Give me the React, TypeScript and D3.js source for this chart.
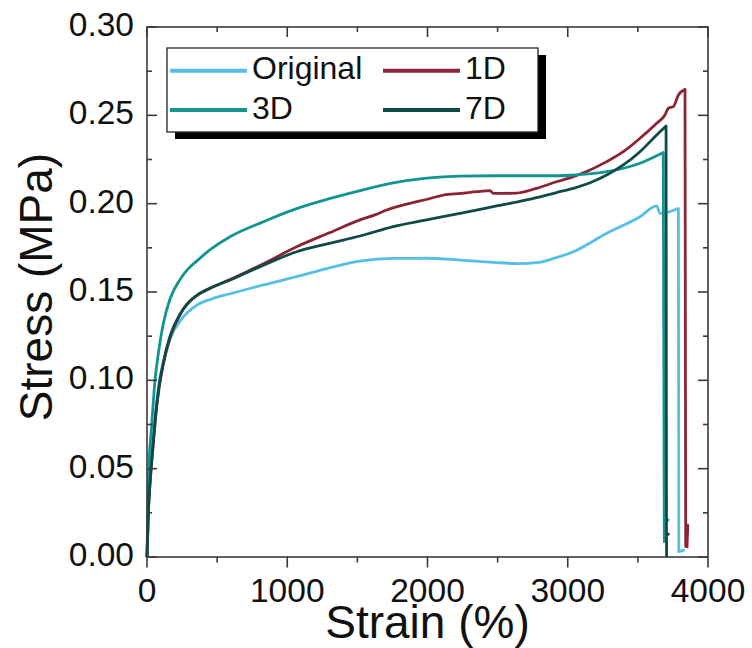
import React from "react";
import * as d3 from "d3";

// ---- data (strain %, stress MPa) ----
const originalData: [number, number][] = [
  [0, 0], [9.5, 0.025], [25, 0.048], [45, 0.068], [65, 0.085], [85, 0.098], [116, 0.11], [150, 0.12], [188, 0.1275],
  [235, 0.1335], [290, 0.1385], [354, 0.1425], [460, 0.146], [592, 0.149], [830, 0.154], [1067, 0.1587], [1300, 0.1637], [1519, 0.1675], [1756, 0.169],
  [1994, 0.1691], [2232, 0.1681], [2469, 0.1668], [2640, 0.1661], [2780, 0.1666], [2900, 0.169],
  [3040, 0.1728], [3278, 0.1832], [3515, 0.1926], [3634, 0.1987], [3658, 0.1945], [3789, 0.1973],
  [3792, 0.003], [3835, 0.004],
];
const d1Data: [number, number][] = [
  [0, 0], [9.5, 0.025], [25, 0.045], [45, 0.064], [65, 0.082], [85, 0.095], [116, 0.109], [164, 0.124], [235, 0.137],
  [290, 0.1435], [354, 0.148], [460, 0.1525], [592, 0.157], [830, 0.166], [1067, 0.1756], [1300, 0.1835], [1519, 0.1908],
  [1620, 0.1935], [1709, 0.1964], [1875, 0.2002], [2000, 0.2025], [2113, 0.2049], [2240, 0.2058],
  [2351, 0.2068], [2446, 0.2074], [2469, 0.2058], [2636, 0.206], [2778, 0.2087], [2920, 0.2124],
  [3040, 0.2153], [3159, 0.2191], [3278, 0.2238], [3396, 0.2294], [3515, 0.237], [3634, 0.2455],
  [3693, 0.2502], [3717, 0.254], [3753, 0.2549], [3789, 0.2615], [3836, 0.2647],
  [3841, 0.006], [3856, 0.018], [3850, 0.005],
];
const d3Data: [number, number][] = [
  [0, 0], [9.5, 0.0436], [33, 0.074], [57, 0.1], [81, 0.1153], [116, 0.132], [164, 0.146],
  [235, 0.157], [290, 0.1628], [354, 0.1675], [460, 0.1745], [592, 0.1813], [830, 0.1898], [1067, 0.1972], [1300, 0.2028],
  [1519, 0.2074], [1756, 0.2118], [1994, 0.2145], [2232, 0.2156], [2469, 0.2158], [2707, 0.2158],
  [2945, 0.2158], [3040, 0.2162], [3278, 0.2181], [3515, 0.2229], [3681, 0.229],
  [3688, 0.02], [3714, 0.021], [3688, 0.02], [3689, 0.008],
];
const d7Data: [number, number][] = [
  [0, 0], [9.5, 0.025], [25, 0.046], [45, 0.065], [65, 0.083], [85, 0.096], [116, 0.11], [164, 0.125], [235, 0.1375],
  [290, 0.1435], [354, 0.148], [460, 0.1525], [592, 0.1568], [830, 0.1652], [1067, 0.1728], [1300, 0.1775], [1519, 0.1817],
  [1756, 0.187], [1994, 0.1908], [2232, 0.1945], [2469, 0.1983], [2707, 0.2021], [2920, 0.2063],
  [3040, 0.2087], [3159, 0.2118], [3278, 0.2162], [3396, 0.2219], [3515, 0.2294], [3634, 0.2389],
  [3701, 0.244], [3704, 0.013], [3718, 0.013], [3704, 0.012], [3705, 0.0],
];

const seriesNames = ["Original", "1D", "3D", "7D"];
const seriesColors = ["#55BFE6", "#8B2434", "#12948F", "#0E4B47"];
const seriesData = [originalData, d1Data, d3Data, d7Data];
const drawOrder = [0, 1, 2, 3];

const xMajorTicks = [0, 1000, 2000, 3000, 4000];
const xMinorTicks = [500, 1500, 2500, 3500];
const yMajorTicks = [0, 0.05, 0.1, 0.15, 0.2, 0.25, 0.3];
const yMinorTicks = [0.025, 0.075, 0.125, 0.175, 0.225, 0.275];

const xTitle = "Strain (%)";
const yTitle = "Stress (MPa)";

export default function App() {
  const W = 752, H = 648;
  const left = 147, right = 708, top = 27, bottom = 557;
  const x = d3.scaleLinear().domain([0, 4000]).range([left, right]);
  const y = d3.scaleLinear().domain([0, 0.3]).range([bottom, top]);
  const smooth = d3.line<[number, number]>().x(d => x(d[0])).y(d => y(d[1])).curve(d3.curveMonotoneX);
  const font = "'Liberation Sans', Arial, sans-serif";
  const axisColor = "#3a3a3a";

  // smooth body up to the break, straight segments for the fracture tail
  const pathFor = (data: [number, number][]) => {
    let brk = data.length - 1;
    for (let i = 1; i < data.length; i++) {
      if (data[i - 1][1] - data[i][1] > 0.05) { brk = i - 1; break; }
    }
    const body = smooth(data.slice(0, brk + 1)) || "";
    const tail = data.slice(brk + 1).map(d => `L${x(d[0])},${y(d[1])}`).join("");
    return body + tail;
  };

  const lgX = 167, lgY = 48, lgW = 371, lgH = 84;
  const rowY = [70.7, 110];
  const colX = [170, 383];
  const lineLen = 77;

  return (
    <svg width={W} height={H} style={{ position: "absolute", left: 0, top: 0, background: "#fff" }}
      fontFamily={font}>
      <rect x={0} y={0} width={W} height={H} fill="#fff" />
      {drawOrder.map(i => (
        <path key={i} d={pathFor(seriesData[i])} fill="none" stroke={seriesColors[i]}
          strokeWidth={2.8} strokeLinejoin="round" />
      ))}
      <rect x={left} y={top} width={right - left} height={bottom - top} fill="none"
        stroke={axisColor} strokeWidth={1.6} />
      {xMajorTicks.map(t => (
        <g key={"xm" + t}>
          <line x1={x(t)} x2={x(t)} y1={bottom} y2={bottom + 10.5} stroke={axisColor} strokeWidth={1.6} />
          <line x1={x(t)} x2={x(t)} y1={top} y2={top + 10} stroke={axisColor} strokeWidth={1.6} />
          <text x={x(t)} y={602} fontSize={33.5} textAnchor="middle" fill="#111">{t}</text>
        </g>
      ))}
      {xMinorTicks.map(t => (
        <g key={"xn" + t}>
          <line x1={x(t)} x2={x(t)} y1={bottom} y2={bottom + 5.5} stroke={axisColor} strokeWidth={1.6} />
          <line x1={x(t)} x2={x(t)} y1={top} y2={top + 5} stroke={axisColor} strokeWidth={1.6} />
        </g>
      ))}
      {yMajorTicks.map(t => (
        <g key={"ym" + t}>
          <line x1={left} x2={left + 10} y1={y(t)} y2={y(t)} stroke={axisColor} strokeWidth={1.6} />
          <line x1={right} x2={right - 10} y1={y(t)} y2={y(t)} stroke={axisColor} strokeWidth={1.6} />
          <text x={134} y={y(t) + 9} fontSize={33.5} textAnchor="end" fill="#111">{t.toFixed(2)}</text>
        </g>
      ))}
      {yMinorTicks.map(t => (
        <g key={"yn" + t}>
          <line x1={left} x2={left + 5} y1={y(t)} y2={y(t)} stroke={axisColor} strokeWidth={1.6} />
          <line x1={right} x2={right - 5} y1={y(t)} y2={y(t)} stroke={axisColor} strokeWidth={1.6} />
        </g>
      ))}
      <text x={(left + right) / 2} y={638} fontSize={46} textAnchor="middle" fill="#111">{xTitle}</text>
      <text transform={`translate(52, 287) rotate(-90)`} fontSize={46} textAnchor="middle" fill="#111">{yTitle}</text>
      <rect x={lgX + 8} y={lgY + 7} width={lgW} height={lgH} fill="#000" />
      <rect x={lgX} y={lgY} width={lgW} height={lgH} fill="#fff" stroke="#222" strokeWidth={1.3} />
      {seriesNames.map((name, i) => {
        const col = i % 2, row = Math.floor(i / 2);
        const lx = colX[col], ly = rowY[row];
        return (
          <g key={name}>
            <line x1={lx} x2={lx + lineLen} y1={ly} y2={ly} stroke={seriesColors[i]} strokeWidth={4} />
            <text x={lx + lineLen + 5} y={ly + 8.5} fontSize={32} fill="#111">{name}</text>
          </g>
        );
      })}
    </svg>
  );
}
